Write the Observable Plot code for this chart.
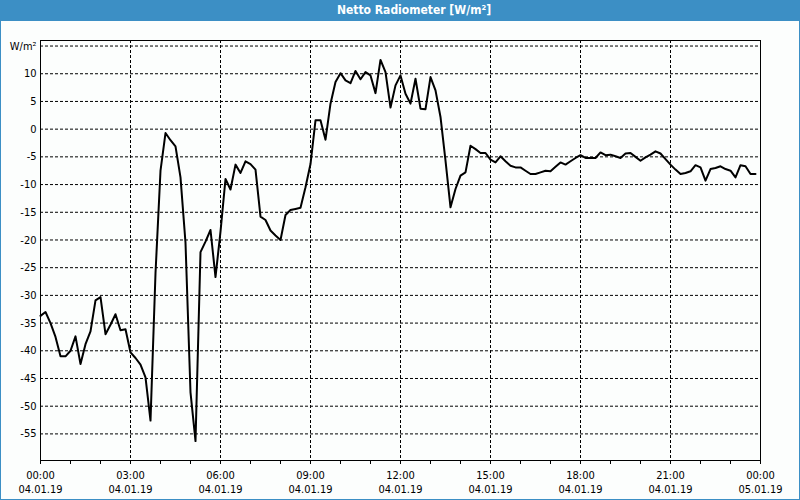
<!DOCTYPE html>
<html><head><meta charset="utf-8">
<script src="https://cdn.jsdelivr.net/npm/d3@7"></script>
<script src="https://cdn.jsdelivr.net/npm/@observablehq/plot@0.6"></script>
<style>
html,body{margin:0;padding:0;background:#fcfefd;}
#wrap{width:800px;height:500px;box-sizing:border-box;border:1px solid #3c8fc5;border-top:none;background:#fcfefd;overflow:hidden;}
#title{height:21px;background:#3c8fc5;color:#fff;font:bold 12px "DejaVu Sans Condensed","Liberation Sans",sans-serif;line-height:21px;text-align:center;padding-left:28px;box-sizing:border-box;margin:0 -1px;}
#chart svg{display:block;}
</style></head><body>
<div id="wrap"><div id="title">Netto Radiometer [W/m²]</div><div id="chart"></div></div>
<script>
// start of series and sampling step (10 minutes)
const startTime = Date.UTC(2019, 0, 4, 0, 0);
const stepMinutes = 10;
// Netto radiometer values, W/m², every 10 minutes from 04.01.19 00:00
const values = [
  -33.7, -33.0, -35.0, -37.5, -41.0, -41.0, -40.0, -37.4, -42.4, -38.8,
  -36.5, -30.9, -30.3, -37.0, -35.3, -33.4, -36.3, -36.1, -40.3, -41.3,
  -42.5, -44.8, -52.6, -26.0, -7.5, -0.7, -2.0, -3.1, -8.7, -20.5,
  -47.5, -56.3, -22.2, -20.3, -18.2, -26.7, -18.5, -9.0, -10.9, -6.4,
  -7.9, -5.8, -6.3, -7.3, -15.8, -16.4, -18.3, -19.2, -20.0, -15.5,
  -14.6, -14.4, -14.2, -10.5, -6.3, 1.6, 1.6, -1.9, 4.6, 8.5,
  10.1, 8.8, 8.3, 10.5, 9.0, 10.3, 9.7, 6.5, 12.5, 10.3,
  3.9, 7.9, 9.7, 6.4, 4.6, 9.1, 3.7, 3.6, 9.4, 7.0,
  2.2, -5.7, -14.1, -10.8, -8.4, -7.8, -3.0, -3.6, -4.3, -4.3,
  -5.5, -6.0, -4.9, -5.8, -6.6, -6.9, -6.9, -7.5, -8.1, -8.1,
  -7.8, -7.5, -7.6, -6.8, -6.0, -6.4, -5.8, -5.2, -4.7, -5.2,
  -5.2, -5.2, -4.2, -4.7, -4.6, -4.9, -5.2, -4.4, -4.3, -5.0,
  -5.7, -5.1, -4.6, -4.0, -4.4, -5.4, -6.4, -7.3, -8.1, -7.9,
  -7.6, -6.5, -6.9, -9.3, -7.2, -7.0, -6.7, -7.2, -7.5, -8.7,
  -6.5, -6.7, -8.1, -8.1
];
// y axis ticks and labels
const yTicks = [-55, -50, -45, -40, -35, -30, -25, -20, -15, -10, -5, 0, 5, 10, 15];
const yUnitLabel = "W/m²";
// x axis: labelled ticks (hours from start) and their two-line labels
const xLabelHours = [0, 3, 6, 9, 12, 15, 18, 21, 24];
const xLabelTimes = ["00:00", "03:00", "06:00", "09:00", "12:00", "15:00", "18:00", "21:00", "00:00"];
const xLabelDates = ["04.01.19", "04.01.19", "04.01.19", "04.01.19", "04.01.19", "04.01.19", "04.01.19", "04.01.19", "05.01.19"];
const minorTickHours = d3.range(0, 25);

const hour = 3600 * 1000;
const data = values.map((v, i) => ({t: new Date(startTime + i * stepMinutes * 60000), v}));
const labelData = xLabelHours.map((h, i) => ({t: new Date(startTime + h * hour), label: xLabelTimes[i] + "\n" + xLabelDates[i]}));
const majorDates = xLabelHours.map(h => new Date(startTime + h * hour));
const minorDates = minorTickHours.map(h => new Date(startTime + h * hour));

const chart = Plot.plot({
  width: 798,
  height: 478,
  marginLeft: 39,
  marginRight: 39,
  marginTop: 19,
  marginBottom: 39,
  style: {fontFamily: '"DejaVu Sans Condensed", "Liberation Sans", sans-serif', fontSize: "11px", background: "transparent", color: "#000"},
  x: {type: "utc", domain: [new Date(startTime), new Date(startTime + 24 * hour)], label: null},
  y: {domain: [-59.8, 16], label: null},
  marks: [
    Plot.gridY(yTicks, {stroke: "#000", strokeOpacity: 1, strokeDasharray: "3,2"}),
    Plot.gridX(majorDates, {stroke: "#000", strokeOpacity: 1, strokeDasharray: "3,2"}),
    Plot.axisY(yTicks, {tickSize: 0, tickPadding: 4, label: null, tickFormat: d => d === 15 ? yUnitLabel : String(d), fill: "#000"}),
    Plot.axisX(minorDates, {tickSize: 4, label: null, tickFormat: () => "", stroke: "#000"}),
    Plot.text(labelData, {x: "t", text: "label", frameAnchor: "bottom", lineAnchor: "top", lineHeight: 1.32, dy: 8, fill: "#000"}),
    Plot.frame({stroke: "#000", strokeWidth: 1}),
    Plot.line(data, {x: "t", y: "v", stroke: "#000", strokeWidth: 2})
  ]
});
document.getElementById("chart").appendChild(chart);
</script>
</body></html>
